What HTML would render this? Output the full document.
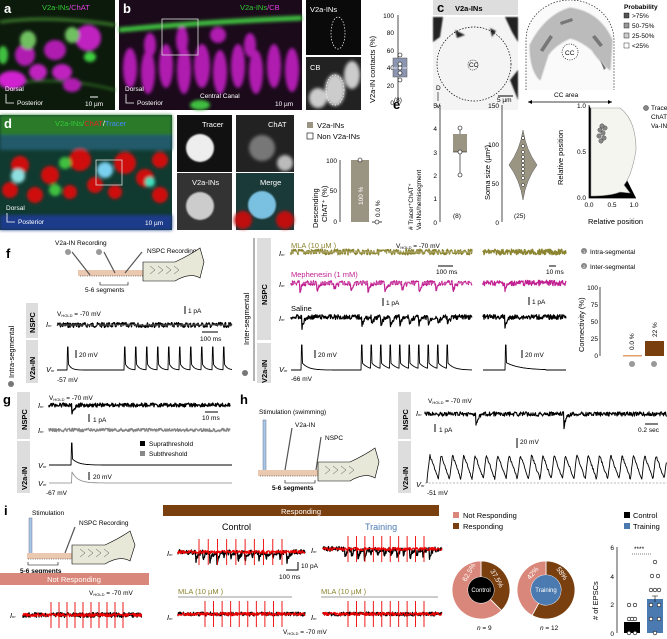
<!DOCTYPE html>
<html><head><meta charset="utf-8">
<style>
html,body{margin:0;padding:0;background:#fff;}
svg{display:block;font-family:"Liberation Sans",Arial,sans-serif;}
.l{font-weight:bold;font-size:13px;}
.t{font-size:7.5px;}
.s{font-size:6.5px;}
.it{font-style:italic;font-size:7.5px;}
</style></head><body>
<svg id="s" width="667" height="639" viewBox="0 0 667 639" xmlns="http://www.w3.org/2000/svg">
<defs>
<filter id="bl" x="-50%" y="-50%" width="200%" height="200%"><feGaussianBlur stdDeviation="1.6"/></filter>
<filter id="bl2" x="-50%" y="-50%" width="200%" height="200%"><feGaussianBlur stdDeviation="0.8"/></filter>
</defs>
<!-- panel a image -->
<rect x="0" y="0" width="115" height="110" fill="#0c1a0c"/>
<g filter="url(#bl)">
<path d="M0 22 Q50 15 115 25" stroke="#3a7a2a" stroke-width="3" fill="none"/>
<path d="M0 85 Q60 75 115 90" stroke="#2e6a22" stroke-width="2" fill="none"/>
<ellipse cx="88" cy="38" rx="13" ry="13" fill="#c020c0"/>
<ellipse cx="55" cy="50" rx="11" ry="10" fill="#b01cb0"/>
<ellipse cx="25" cy="55" rx="10" ry="11" fill="#b01cb0"/>
<ellipse cx="38" cy="72" rx="9" ry="8" fill="#c020c0"/>
<ellipse cx="12" cy="80" rx="14" ry="9" fill="#d024d0"/>
<ellipse cx="62" cy="72" rx="10" ry="8" fill="#c020c0"/>
<ellipse cx="72" cy="85" rx="9" ry="7" fill="#b01cb0"/>
<ellipse cx="28" cy="40" rx="8" ry="9" fill="#70c060"/>
<ellipse cx="72" cy="35" rx="7" ry="8" fill="#70c060"/>
<ellipse cx="90" cy="57" rx="6" ry="5" fill="#40d040"/>
<ellipse cx="3" cy="55" rx="5" ry="9" fill="#40c040"/>
</g>
<text x="4" y="13" class="l" fill="#fff">a</text>
<text x="42" y="10" class="t" fill="#3c3"><tspan>V2a-INs</tspan><tspan fill="#e040e0">/ChAT</tspan></text>
<text x="5" y="91" class="s" fill="#fff">Dorsal</text>
<path d="M6 94 V103 H14" stroke="#fff" stroke-width="0.8" fill="none"/>
<text x="17" y="105" class="s" fill="#fff">Posterior</text>
<text x="85" y="106" class="s" fill="#fff">10 µm</text>
<path d="M90 97 H98" stroke="#fff" stroke-width="1"/>
<!-- panel b -->
<rect x="119" y="0" width="183" height="110" fill="#1a0a1a"/>
<g filter="url(#bl)">
<path d="M119 30 Q200 22 302 18" stroke="#40c040" stroke-width="5" fill="none"/>
<g fill="#b01cb0">
<ellipse cx="130" cy="68" rx="7" ry="20"/><ellipse cx="148" cy="72" rx="7" ry="22"/><ellipse cx="166" cy="66" rx="7" ry="22"/>
<ellipse cx="184" cy="70" rx="7" ry="24"/><ellipse cx="202" cy="66" rx="8" ry="22"/><ellipse cx="220" cy="72" rx="7" ry="22"/>
<ellipse cx="238" cy="66" rx="7" ry="22"/><ellipse cx="256" cy="72" rx="7" ry="22"/><ellipse cx="274" cy="66" rx="7" ry="22"/>
<ellipse cx="292" cy="70" rx="7" ry="22"/><ellipse cx="182" cy="40" rx="6" ry="14"/><ellipse cx="218" cy="35" rx="8" ry="8"/>
<ellipse cx="150" cy="45" rx="6" ry="12"/><ellipse cx="250" cy="45" rx="6" ry="12"/>
</g>
<ellipse cx="200" cy="105" rx="10" ry="5" fill="#40c040"/>
</g>
<rect x="162" y="19" width="36" height="36" fill="none" stroke="#ddd" stroke-width="0.8"/>
<text x="123" y="13" class="l" fill="#fff">b</text>
<text x="240" y="10" class="t" fill="#3c3"><tspan>V2a-INs</tspan><tspan fill="#e040e0">/CB</tspan></text>
<text x="125" y="91" class="s" fill="#fff">Dorsal</text>
<path d="M126 94 V103 H134" stroke="#fff" stroke-width="0.8" fill="none"/>
<text x="137" y="105" class="s" fill="#fff">Posterior</text>
<text x="200" y="98" class="s" fill="#fff">Central Canal</text>
<text x="275" y="106" class="s" fill="#fff">10 µm</text>
<rect x="306" y="0" width="55" height="55" fill="#0a0a0a"/>
<ellipse cx="338" cy="33" rx="7" ry="16" fill="none" stroke="#fff" stroke-width="0.7" stroke-dasharray="1.5 1.5"/>
<text x="310" y="12" class="t" fill="#fff">V2a-INs</text>
<rect x="306" y="57" width="55" height="53" fill="#222"/>
<g filter="url(#bl)" fill="#ccc"><ellipse cx="335" cy="90" rx="10" ry="16"/><ellipse cx="352" cy="75" rx="8" ry="14"/><ellipse cx="318" cy="98" rx="9" ry="10"/></g>
<ellipse cx="335" cy="90" rx="9" ry="15" fill="none" stroke="#fff" stroke-width="0.7" stroke-dasharray="1.5 1.5"/>
<text x="310" y="70" class="t" fill="#fff">CB</text>
<!-- box plot b -->
<text transform="translate(375,103) rotate(-90)" class="t">V2a-IN contacts (%)</text>
<path d="M398 15 V103" stroke="#000" stroke-width="0.7"/>
<g class="s" text-anchor="end">
<text x="394" y="18">100</text><text x="394" y="35">80</text><text x="394" y="53">60</text><text x="394" y="70">40</text><text x="394" y="88">20</text><text x="394" y="105">0</text>
</g>
<rect x="393" y="58" width="14" height="19" fill="#8b95b0" stroke="#555" stroke-width="0.5"/>
<path d="M393 68 H407 M400 53 V58 M400 77 V81" stroke="#fff" stroke-width="0.7"/>
<g fill="#fff" stroke="#000" stroke-width="0.6"><circle cx="400" cy="55" r="2"/><circle cx="400" cy="64" r="2"/><circle cx="400" cy="68" r="2"/><circle cx="400" cy="73" r="2"/><circle cx="400" cy="80" r="2"/></g>
<text x="394" y="102" class="s">(8)</text>
<!-- panel c -->
<rect x="433" y="0" width="85" height="15" fill="#ddd"/>
<text x="437" y="12" class="l">c</text>
<text x="455" y="11" class="t" font-weight="bold">V2a-INs</text>
<rect x="433" y="17" width="85" height="93" fill="#f4f4f4"/>
<g filter="url(#bl2)" fill="#222"><path d="M433 17 h10 l-3 20 l-7 5z"/><path d="M505 17 h13 v25 l-6 -10z"/><path d="M510 80 l8 -10 v30z"/><path d="M455 30 l10 5 l-8 3z"/><path d="M490 28 l6 3 l-4 6z"/></g>
<circle cx="474" cy="64" r="37" fill="none" stroke="#000" stroke-width="0.7" stroke-dasharray="1.5 1.5"/>
<circle cx="473" cy="65" r="5" fill="none" stroke="#000" stroke-width="0.6" stroke-dasharray="1 1"/>
<text x="469" y="67" class="s" font-size="5">CC</text>
<text x="436" y="90" class="s">D</text><text x="436" y="108" class="s">V</text>
<path d="M438 92 V101" stroke="#000" stroke-width="0.6"/>
<text x="497" y="102" class="s">5 µm</text>
<path d="M498 96 H513" stroke="#000" stroke-width="1"/>
<path d="M526 90 V40 A44 40 0 0 1 614 40 V90" fill="#fafafa" stroke="#000" stroke-width="0.6" stroke-dasharray="1.5 1.5"/>
<g fill="#bbb" stroke="#777" stroke-width="0.4" filter="url(#bl2)">
<path d="M530 45 Q545 15 570 8 Q600 12 612 40 L610 70 Q598 60 592 50 Q580 40 570 38 Q555 45 548 55 L540 80 Q530 70 530 45z"/>
</g>
<g fill="#777"><path d="M540 50 l10 -15 l3 2 l-10 15z"/><path d="M595 35 l8 10 l-3 2 l-8 -10z"/><path d="M560 22 l12 -4 l1 3 l-12 4z"/><path d="M600 60 l6 8 l-2 2z"/></g>
<circle cx="570" cy="52" r="8" fill="#fff" stroke="#000" stroke-width="0.6" stroke-dasharray="1.2 1.2"/>
<text x="565" y="55" class="s">CC</text>
<path d="M528 102 H612" stroke="#000" stroke-width="0.7"/>
<path d="M528 102 l4 -2 v4z M612 102 l-4 -2 v4z"/>
<text x="554" y="97" class="s">CC area</text>
<text x="624" y="9" class="s" font-weight="bold">Probability</text>
<g class="s"><rect x="624" y="13" width="5" height="5" fill="#555" stroke="#000" stroke-width="0.4"/><text x="632" y="18">&gt;75%</text>
<rect x="624" y="23" width="5" height="5" fill="#999" stroke="#000" stroke-width="0.4"/><text x="632" y="28">50-75%</text>
<rect x="624" y="33" width="5" height="5" fill="#ccc" stroke="#000" stroke-width="0.4"/><text x="632" y="38">25-50%</text>
<rect x="624" y="43" width="5" height="5" fill="#fff" stroke="#000" stroke-width="0.4"/><text x="632" y="48">&lt;25%</text></g>
<!-- panel d -->
<rect x="0" y="115" width="172" height="115" fill="#103a30"/>
<g filter="url(#bl)">
<rect x="0" y="115" width="172" height="30" fill="#2a7a2a"/>
<rect x="0" y="135" width="172" height="15" fill="#205a6a"/>
<rect x="0" y="215" width="172" height="15" fill="#1a3a8a"/>
<g fill="#d01010"><circle cx="20" cy="165" r="9"/><circle cx="50" cy="175" r="9"/><circle cx="80" cy="160" r="11"/><circle cx="125" cy="163" r="11"/><circle cx="95" cy="185" r="8"/><circle cx="145" cy="178" r="9"/><circle cx="10" cy="190" r="8"/><circle cx="35" cy="195" r="8"/><circle cx="70" cy="192" r="7"/><circle cx="115" cy="192" r="7"/><circle cx="160" cy="195" r="8"/><circle cx="160" cy="160" r="8"/></g>
<circle cx="18" cy="176" r="7" fill="#8ee0e0"/><circle cx="105" cy="170" r="8" fill="#7ad0f0"/><circle cx="150" cy="182" r="5" fill="#40e0c0"/>
<circle cx="55" cy="190" r="6" fill="#40c040"/><circle cx="65" cy="163" r="6" fill="#40c040"/>
</g>
<rect x="96" y="160" width="26" height="25" fill="none" stroke="#ddd" stroke-width="0.8"/>
<text x="4" y="128" class="l" fill="#fff">d</text>
<text x="55" y="126" class="t"><tspan fill="#3c3">V2a-INs/</tspan><tspan fill="#e22">ChAT</tspan><tspan fill="#fff">/</tspan><tspan fill="#48f">Tracer</tspan></text>
<text x="6" y="210" class="s" fill="#fff">Dorsal</text>
<path d="M7 213 V222 H15" stroke="#fff" stroke-width="0.8" fill="none"/>
<text x="18" y="224" class="s" fill="#fff">Posterior</text>
<text x="145" y="225" class="s" fill="#fff">10 µm</text>
<rect x="177" y="115" width="55" height="57" fill="#111"/>
<circle cx="200" cy="148" r="14" fill="#eee" filter="url(#bl2)"/>
<text x="202" y="127" class="t" fill="#fff">Tracer</text>
<rect x="236" y="115" width="58" height="57" fill="#222"/>
<circle cx="262" cy="148" r="13" fill="#777" filter="url(#bl)"/><circle cx="285" cy="163" r="8" fill="#bbb" filter="url(#bl)"/>
<text x="268" y="127" class="t" fill="#fff">ChAT</text>
<rect x="177" y="173" width="55" height="57" fill="#333"/>
<circle cx="200" cy="206" r="14" fill="#ccc" filter="url(#bl2)"/>
<text x="192" y="185" class="t" fill="#fff">V2a-INs</text>
<rect x="236" y="173" width="58" height="57" fill="#1a3a3a"/>
<circle cx="262" cy="205" r="14" fill="#7ac0e0" filter="url(#bl2)"/><circle cx="243" cy="220" r="9" fill="#c01010" filter="url(#bl)"/><circle cx="285" cy="220" r="9" fill="#c01010" filter="url(#bl)"/>
<text x="260" y="185" class="t" fill="#fff">Merge</text>
<rect x="307" y="122" width="6" height="6" fill="#9a9482"/><text x="317" y="128" class="t">V2a-INs</text>
<rect x="307" y="133" width="6" height="6" fill="#fff" stroke="#000" stroke-width="0.6"/><text x="317" y="139" class="t">Non V2a-INs</text>
<text transform="translate(318,228) rotate(-90)" class="t">Descending</text>
<text transform="translate(327,222) rotate(-90)" class="t">ChAT⁺ (%)</text>
<path d="M340 160 V222" stroke="#000" stroke-width="0.7"/>
<g class="s" text-anchor="end"><text x="337" y="163">100</text><text x="337" y="193">50</text><text x="337" y="224">0</text></g>
<rect x="351" y="160" width="18" height="62" fill="#9a9482"/>
<circle cx="360" cy="160" r="2" fill="#fff" stroke="#000" stroke-width="0.6"/>
<text transform="translate(363,205) rotate(-90)" class="s" fill="#fff">100 %</text>
<text transform="translate(380,217) rotate(-90)" class="s">0.0 %</text>
<path d="M372 222 H382" stroke="#000" stroke-width="0.7"/><circle cx="377" cy="222" r="2" fill="#fff" stroke="#000" stroke-width="0.6"/>
<!-- panel e -->
<text x="393" y="109" class="l">e</text>
<text transform="translate(413,230) rotate(-90)" class="s"># Tracer⁺ChAT⁺</text>
<text transform="translate(421,230) rotate(-90)" class="s">Va-INs/hemisegment</text>
<path d="M440 105 V222" stroke="#000" stroke-width="0.7"/>
<g class="s" text-anchor="end"><text x="437" y="108">5</text><text x="437" y="131">4</text><text x="437" y="155">3</text><text x="437" y="178">2</text><text x="437" y="201">1</text><text x="437" y="225">0</text></g>
<rect x="453" y="134" width="14" height="18" fill="#9a9482"/>
<path d="M453 152 H467 M460 128 V134 M460 152 V175" stroke="#000" stroke-width="0.6"/>
<g fill="#fff" stroke="#000" stroke-width="0.6"><circle cx="460" cy="128" r="2"/><circle cx="460" cy="152" r="2"/><circle cx="460" cy="175" r="2"/></g>
<text x="453" y="218" class="s">(8)</text>
<text transform="translate(490,200) rotate(-90)" class="t">Soma size (µm²)</text>
<path d="M502 105 V222" stroke="#000" stroke-width="0.7"/>
<g class="s" text-anchor="end"><text x="499" y="108">150</text><text x="499" y="147">100</text><text x="499" y="186">50</text><text x="499" y="225">0</text></g>
<path d="M523 130 Q526 150 537 165 Q526 180 523 200 Q520 180 509 165 Q520 150 523 130z" fill="#9a9482" stroke="#555" stroke-width="0.5"/>
<g fill="#fff" stroke="#000" stroke-width="0.4"><circle cx="523" cy="138" r="1.5"/><circle cx="523" cy="146" r="1.5"/><circle cx="523" cy="152" r="1.5"/><circle cx="523" cy="157" r="1.5"/><circle cx="523" cy="161" r="1.5"/><circle cx="523" cy="165" r="1.5"/><circle cx="523" cy="169" r="1.5"/><circle cx="523" cy="173" r="1.5"/><circle cx="523" cy="178" r="1.5"/><circle cx="523" cy="185" r="1.5"/></g>
<text x="514" y="218" class="s">(25)</text>
<text transform="translate(563,185) rotate(-90)" class="t">Relative position</text>
<path d="M589 105 V198 H636" stroke="#000" stroke-width="0.7"/>
<g class="s" text-anchor="end"><text x="586" y="108">1.0</text><text x="586" y="154">0.5</text><text x="586" y="200">0.0</text></g>
<g class="s" text-anchor="middle"><text x="589" y="207">0.0</text><text x="612" y="207">0.5</text><text x="634" y="207">1.0</text></g>
<text x="588" y="224" class="t">Relative position</text>
<path d="M591 108 H620 Q636 120 636 150 Q632 175 624 185 L630 193 L620 192 Q610 196 591 196z" fill="#f5f5f0" stroke="#999" stroke-width="0.6"/>
<g fill="#888" stroke="#333" stroke-width="0.4"><circle cx="600" cy="130" r="2.2"/><circle cx="603" cy="133" r="2.2"/><circle cx="599" cy="136" r="2.2"/><circle cx="604" cy="138" r="2.2"/><circle cx="601" cy="141" r="2.2"/><circle cx="605" cy="128" r="2.2"/><circle cx="602" cy="126" r="2.2"/></g>
<circle cx="646" cy="108" r="2.5" fill="#888" stroke="#333" stroke-width="0.5"/>
<text x="651" y="110" class="s">Tracer⁺</text><text x="651" y="119" class="s">ChAT⁺</text><text x="651" y="128" class="s">Va-INs</text>
<!-- panel f -->
<text x="6" y="258" class="l">f</text>
<text x="55" y="245" class="s">V2a-IN Recording</text>
<text x="147" y="253" class="s">NSPC Recording</text>
<rect x="78" y="270" width="70" height="6" fill="#ebc8b0"/>
<path d="M80 276 H148" stroke="#000" stroke-width="0.6" stroke-dasharray="1 1.3"/>
<path d="M143 262 H175 Q190 255 200 248 L204 262 L200 278 Q190 272 175 281 H143z" fill="#e8e8d8" stroke="#000" stroke-width="0.6"/>
<path d="M150 266 l5 4 l-5 4 M158 266 l5 4 l-5 4 M166 266 l5 4 l-5 4 M174 266 l5 4 l-5 4" stroke="#555" stroke-width="0.5" fill="none"/>
<circle cx="68" cy="252" r="3" fill="#999"/><circle cx="99" cy="252" r="3" fill="#999"/>
<path d="M72 252 L90 275 M104 252 L115 273 M142 252 L125 273" stroke="#555" stroke-width="1.2"/>
<path d="M100 282 V285 H128 V282" stroke="#000" stroke-width="0.6" fill="none"/>
<text x="85" y="292" class="s">5-6 segments</text>
<rect x="26" y="303" width="12" height="35" fill="#ddd"/><rect x="26" y="340" width="12" height="43" fill="#ddd"/>
<text transform="translate(35,333) rotate(-90)" class="t" font-weight="bold">NSPC</text>
<text transform="translate(35,380) rotate(-90)" class="t" font-weight="bold">V2a-IN</text>
<text transform="translate(14,378) rotate(-90)" class="t">Intra-segmental</text>
<circle cx="11" cy="384" r="3" fill="#777"/>
<text x="57" y="316" class="s">V<tspan font-size="4" dy="1">HOLD</tspan><tspan dy="-1"> = -70 mV</tspan></text>
<text x="46" y="327" class="it">I<tspan font-size="4">m</tspan></text>
<path d="M185 306 V314" stroke="#000"/><text x="188" y="313" class="s">1 pA</text>
<path d="M202 332 H218" stroke="#000"/><text x="200" y="341" class="s">100 ms</text>
<path d="M76 350 V358" stroke="#000"/><text x="79" y="357" class="s">20 mV</text>
<text x="46" y="372" class="it">V<tspan font-size="4">m</tspan></text>
<text x="57" y="382" class="s">-57 mV</text>
<path d="M254 238 V381" stroke="#000" stroke-width="0.6"/>
<rect x="257" y="238" width="14" height="102" fill="#ddd"/><rect x="257" y="343" width="14" height="40" fill="#ddd"/>
<text transform="translate(267,305) rotate(-90)" class="t" font-weight="bold">NSPC</text>
<text transform="translate(267,383) rotate(-90)" class="t" font-weight="bold">V2a-IN</text>
<text transform="translate(249,345) rotate(-90)" class="t">Inter-segmental</text>
<circle cx="245" cy="373" r="3" fill="#777"/>
<text x="291" y="248" class="t" fill="#8b8430">MLA (10 µM )</text>
<text x="396" y="248" class="s">V<tspan font-size="4" dy="1">HOLD</tspan><tspan dy="-1"> = -70 mV</tspan></text>
<text x="279" y="256" class="it">I<tspan font-size="4">m</tspan></text>
<path d="M438 266 H453" stroke="#000"/><text x="436" y="274" class="s">100 ms</text>
<path d="M549 266 H556" stroke="#000"/><text x="546" y="274" class="s">10 ms</text>
<text x="291" y="277" class="t" fill="#c02090">Mephenesin (1 mM)</text>
<text x="279" y="287" class="it">I<tspan font-size="4">m</tspan></text>
<path d="M383 298 V306" stroke="#000"/><text x="386" y="305" class="s">1 pA</text>
<path d="M529 297 V305" stroke="#000"/><text x="532" y="304" class="s">1 pA</text>
<text x="291" y="311" class="t">Saline</text>
<text x="279" y="321" class="it">I<tspan font-size="4">m</tspan></text>
<path d="M315 350 V358" stroke="#000"/><text x="318" y="357" class="s">20 mV</text>
<path d="M522 350 V358" stroke="#000"/><text x="525" y="357" class="s">20 mV</text>
<text x="279" y="372" class="it">V<tspan font-size="4">m</tspan></text>
<text x="291" y="381" class="s">-66 mV</text>
<circle cx="584" cy="251" r="3" fill="#888"/><text x="583" y="253" font-size="4" fill="#fff">1</text><text x="590" y="254" class="s">Intra-segmental</text>
<circle cx="584" cy="266" r="3" fill="#888"/><text x="583" y="268" font-size="4" fill="#fff">2</text><text x="590" y="269" class="s">Inter-segmental</text>
<text transform="translate(584,352) rotate(-90)" class="t">Connectivity (%)</text>
<path d="M600 287 V356" stroke="#000" stroke-width="0.7"/>
<g class="s" text-anchor="end" font-size="5.5"><text x="598" y="290">100</text><text x="598" y="307">75</text><text x="598" y="324">50</text><text x="598" y="341">25</text><text x="598" y="358">0</text></g>
<rect x="623" y="355" width="19" height="1.5" fill="#e0a070"/>
<rect x="645" y="341" width="19" height="15" fill="#7a3f0f"/>
<text transform="translate(634,350) rotate(-90)" class="s">0.0 %</text>
<text transform="translate(657,337) rotate(-90)" class="s">22 %</text>
<circle cx="632" cy="364" r="3" fill="#999"/><circle cx="654" cy="364" r="3" fill="#999"/>
<!-- panel g -->
<text x="3" y="404" class="l">g</text>
<rect x="17" y="392" width="13" height="47" fill="#ddd"/><rect x="17" y="441" width="13" height="52" fill="#ddd"/>
<text transform="translate(27,430) rotate(-90)" class="t" font-weight="bold">NSPC</text>
<text transform="translate(27,490) rotate(-90)" class="t" font-weight="bold">V2a-IN</text>
<text x="49" y="400" class="s">V<tspan font-size="4" dy="1">HOLD</tspan><tspan dy="-1"> = -70 mV</tspan></text>
<text x="38" y="408" class="it">I<tspan font-size="4">m</tspan></text>
<text x="38" y="433" class="it">I<tspan font-size="4">m</tspan></text>
<path d="M89 414 V422" stroke="#000"/><text x="93" y="422" class="s">1 pA</text>
<path d="M205 412 H218" stroke="#000"/><text x="202" y="420" class="s">10 ms</text>
<rect x="140" y="441" width="5" height="5"/><text x="149" y="446" class="s">Suprathreshold</text>
<rect x="140" y="451" width="5" height="5" fill="#888"/><text x="149" y="456" class="s">Subthreshold</text>
<text x="38" y="468" class="it">V<tspan font-size="4">m</tspan></text>
<text x="38" y="486" class="it">V<tspan font-size="4">m</tspan></text>
<path d="M89 472 V480" stroke="#000"/><text x="93" y="479" class="s">20 mV</text>
<text x="46" y="495" class="s">-67 mV</text>
<!-- panel h -->
<text x="240" y="404" class="l">h</text>
<text x="259" y="414" class="s">Stimulation (swimming)</text>
<text x="295" y="427" class="s">V2a-IN</text>
<text x="325" y="440" class="s">NSPC</text>
<rect x="263" y="420" width="3" height="55" fill="#a8c8e8" stroke="#557" stroke-width="0.4"/>
<path d="M292 428 L285 470 M321 437 L316 470" stroke="#555" stroke-width="1.2"/>
<rect x="258" y="470" width="65" height="6" fill="#ebc8b0"/>
<path d="M260 476 H323" stroke="#000" stroke-width="0.6" stroke-dasharray="1 1.3"/>
<path d="M318 462 H350 Q365 455 375 448 L379 462 L375 478 Q365 472 350 481 H318z" fill="#e8e8d8" stroke="#000" stroke-width="0.6"/>
<path d="M325 466 l5 4 l-5 4 M333 466 l5 4 l-5 4 M341 466 l5 4 l-5 4 M349 466 l5 4 l-5 4" stroke="#555" stroke-width="0.5" fill="none"/>
<path d="M285 480 V483 H315 V480" stroke="#000" stroke-width="0.6" fill="none"/>
<text x="272" y="490" class="s" font-weight="bold">5-6 segments</text>
<rect x="398" y="392" width="13" height="47" fill="#ddd"/><rect x="398" y="441" width="13" height="52" fill="#ddd"/>
<text transform="translate(408,430) rotate(-90)" class="t" font-weight="bold">NSPC</text>
<text transform="translate(408,490) rotate(-90)" class="t" font-weight="bold">V2a-IN</text>
<text x="428" y="403" class="s">V<tspan font-size="4" dy="1">HOLD</tspan><tspan dy="-1"> = -70 mV</tspan></text>
<text x="416" y="416" class="it">I<tspan font-size="4">m</tspan></text>
<path d="M435 424 V432" stroke="#000"/><text x="439" y="432" class="s">1 pA</text>
<path d="M645 424 H658" stroke="#000"/><text x="638" y="432" class="s">0.2 sec</text>
<path d="M517 438 V448" stroke="#000"/><text x="520" y="444" class="s">20 mV</text>
<text x="416" y="487" class="it">V<tspan font-size="4">m</tspan></text>
<path d="M425 483 H667" stroke="#777" stroke-width="0.6" stroke-dasharray="2 1.5"/>
<text x="427" y="495" class="s">-51 mV</text>
<!-- panel i -->
<text x="4" y="515" class="l">i</text>
<text x="32" y="515" class="s">Stimulation</text>
<text x="79" y="525" class="s">NSPC Recording</text>
<rect x="29" y="518" width="3" height="40" fill="#a8c8e8" stroke="#557" stroke-width="0.4"/>
<path d="M75 527 L65 553" stroke="#555" stroke-width="1.2"/>
<rect x="27" y="553" width="50" height="6" fill="#ebc8b0"/>
<path d="M28 559 H77" stroke="#000" stroke-width="0.6" stroke-dasharray="1 1.3"/>
<path d="M72 545 H105 Q120 538 130 531 L135 545 L130 561 Q120 555 105 564 H72z" fill="#e8e8d8" stroke="#000" stroke-width="0.6"/>
<path d="M80 549 l5 4 l-5 4 M88 549 l5 4 l-5 4 M96 549 l5 4 l-5 4 M104 549 l5 4 l-5 4" stroke="#555" stroke-width="0.5" fill="none"/>
<path d="M28 562 V565 H58 V562" stroke="#000" stroke-width="0.6" fill="none"/>
<text x="20" y="573" class="s" font-weight="bold">5-6 segments</text>
<rect x="0" y="573" width="149" height="12" fill="#d9877a"/>
<text x="74" y="582" class="t" fill="#fff" text-anchor="middle">Not Responding</text>
<text x="89" y="595" class="s">V<tspan font-size="4" dy="1">HOLD</tspan><tspan dy="-1"> = -70 mV</tspan></text>
<text x="10" y="618" class="it">I<tspan font-size="4">m</tspan></text>
<rect x="163" y="505" width="276" height="11" fill="#7a3f0f"/>
<text x="301" y="514" class="t" fill="#fff" text-anchor="middle">Responding</text>
<text x="222" y="530" font-size="9">Control</text>
<text x="365" y="530" font-size="9" fill="#4a7ab0">Training</text>
<text x="167" y="556" class="it">I<tspan font-size="4">m</tspan></text>
<text x="311" y="553" class="it">I<tspan font-size="4">m</tspan></text>
<path d="M286 570 H298 V562" stroke="#000" fill="none"/><text x="301" y="568" class="s">10 pA</text>
<text x="279" y="579" class="s">100 ms</text>
<text x="178" y="594" class="t" fill="#8b8430">MLA (10 µM )</text>
<text x="321" y="594" class="t" fill="#8b8430">MLA (10 µM )</text>
<path d="M178 597 H292 M321 597 H438" stroke="#777" stroke-width="0.8"/>
<text x="167" y="620" class="it">I<tspan font-size="4">m</tspan></text>
<text x="311" y="620" class="it">I<tspan font-size="4">m</tspan></text>
<text x="283" y="634" class="s">V<tspan font-size="4" dy="1">HOLD</tspan><tspan dy="-1"> = -70 mV</tspan></text>
<rect x="453" y="512" width="6" height="6" fill="#d9877a"/><text x="463" y="518" class="t">Not Responding</text>
<rect x="453" y="523" width="6" height="6" fill="#7a3f0f"/><text x="463" y="529" class="t">Responding</text>
<g id="pies"></g>
<text x="477" y="630" class="s"><tspan font-style="italic">n</tspan> = 9</text>
<text x="540" y="630" class="s"><tspan font-style="italic">n</tspan> = 12</text>
<rect x="624" y="512" width="6" height="6" fill="#000"/><text x="633" y="518" class="t">Control</text>
<rect x="624" y="523" width="6" height="6" fill="#4a7ab0"/><text x="633" y="529" class="t">Training</text>
<text transform="translate(598,620) rotate(-90)" class="t"># of EPSCs</text>
<path d="M617 547 V633" stroke="#000" stroke-width="0.7"/>
<g class="s" text-anchor="end"><text x="614" y="550">6</text><text x="614" y="579">4</text><text x="614" y="607">2</text><text x="614" y="636">0</text></g>
<text x="634" y="551" class="s">****</text>
<path d="M632 554 H652" stroke="#000" stroke-width="0.6" stroke-dasharray="1 1"/>
<rect x="624" y="622" width="16" height="11" fill="#000"/>
<rect x="647" y="599" width="16" height="34" fill="#4a7ab0"/>
<path d="M655 596 V602 M652 596 H658" stroke="#000" stroke-width="0.6"/>
<g fill="#fff" stroke="#000" stroke-width="0.6">
<circle cx="629" cy="605" r="1.8"/><circle cx="635" cy="605" r="1.8"/><circle cx="629" cy="619" r="1.8"/><circle cx="635" cy="619" r="1.8"/><circle cx="632" cy="619" r="1.8"/><circle cx="629" cy="633" r="1.8"/><circle cx="635" cy="633" r="1.8"/>
<circle cx="655" cy="562" r="1.8"/><circle cx="652" cy="576" r="1.8"/><circle cx="658" cy="576" r="1.8"/><circle cx="651" cy="590" r="1.8"/><circle cx="655" cy="590" r="1.8"/><circle cx="659" cy="590" r="1.8"/><circle cx="651" cy="605" r="1.8"/><circle cx="659" cy="605" r="1.8"/><circle cx="651" cy="619" r="1.8"/><circle cx="659" cy="619" r="1.8"/><circle cx="655" cy="633" r="1.8"/>
</g>
<g id="tr"></g>
</svg>
<script>
(function(){
var seed=7;function r(){seed=(seed*9301+49297)%233280;return seed/233280;}
var g=document.getElementById('tr');var out='';
function P(d,c,w){out+='<path d="'+d+'" stroke="'+c+'" stroke-width="'+(w||0.6)+'" fill="none" stroke-linejoin="round"/>';}
function noise(x0,x1,y,a,c,w,dips){var d='M'+x0+' '+y;for(var x=x0;x<=x1;x+=0.5){var v=y+(r()-0.5)*2*a;if(dips){for(var i=0;i<dips.length;i++){var dx=x-dips[i][0];if(dx>=0&&dx<8)v+=dips[i][1]*Math.exp(-dx/2.2);}}d+=' L'+x.toFixed(1)+' '+v.toFixed(1);}P(d,c,w);}
function spikes(x0,x1,y,xs,h,c,tau,w){var d='M'+x0+' '+y;for(var x=x0;x<=x1;x+=0.5){var v=y;for(var i=0;i<xs.length;i++){var dx=x-xs[i];if(dx>=-0.5&&dx<0.5)v=y-h;else if(dx>=0.5&&dx<40)v=Math.min(v,y-h*0.3*Math.exp(-dx/tau));}d+=' L'+x.toFixed(1)+' '+v.toFixed(1);}P(d,c,w||0.9);}
// f intra
noise(57,232,325,2.4,'#000',1.4);P('M57 325 H232','#fff',0.4);
var tr=[];for(var i=0;i<10;i++)tr.push(125+i*11);
spikes(57,232,370,[68].concat(tr),23,'#000',3);
// f inter
noise(291,472,252,2.8,'#8b8430',1.4);noise(483,566,252,2.8,'#8b8430',1.4);
P('M291 252 H472','#fff',0.4);
var dm=[];for(var i=0;i<10;i++)dm.push([300+i*17,8]);
noise(291,472,283,2.4,'#c02090',1.2,dm);noise(483,566,283,2.8,'#c02090',1.2,[[505,7]]);
P('M291 283 H472','#fff',0.4);
var ds=[[302,11]];for(var i=0;i<10;i++)ds.push([362+i*9.5,8]);
noise(291,472,317,2.4,'#000',1.2,ds);noise(483,566,317,2.4,'#000',1.2,[[505,10]]);
var t2=[];for(var i=0;i<10;i++)t2.push(362+i*9.5);
spikes(291,472,370,[302].concat(t2),25,'#000',6);
spikes(483,566,370,[506],25,'#000',14);
// g
noise(49,230,405,2,'#000',1.3,[[72,9]]);noise(49,230,430,1.7,'#888',1.3);
spikes(49,232,465,[72],22,'#000',6);
var d='M49 483';for(var x=49;x<=232;x+=0.5){var dx=x-72;var v=483;if(dx>=0)v=483-11*Math.exp(-dx/6);d+=' L'+x+' '+v.toFixed(1);}P(d,'#888',0.8);
// h
noise(425,667,414,2.2,'#000',1.1,[[476,13],[564,13]]);
d='M427 483';for(var x=427;x<=667;x+=0.6){var ph=(x-427)/11.3;var f=ph-Math.floor(ph);var v=483-4-(f<0.25?f*4*24:24*(1-(f-0.25)/0.75))+(r()-0.5)*2.5;d+=' L'+x.toFixed(1)+' '+v.toFixed(1);}P(d,'#000',0.9);
// i traces
function stimT(x0,x1,y,a,dip,red){noise(x0,x1,y,a,'#000',1.3,dip);noise(x0,x1,y,1.6,'#e00',1.2);for(var i=0;i<red.length;i++)P('M'+red[i]+' '+(y-13)+' V'+(y+13),'#e00',0.9);}
function reds(a,b){var o=[];for(var i=0;i<10;i++)o.push(a+i*(b-a)/9);return o;}
var dd=[];for(var i=0;i<14;i++)dd.push([196+i*7,5+r()*6]);
stimT(178,305,552,2.4,dd,reds(199,282));
var dd2=[];for(var i=0;i<14;i++)dd2.push([345+i*6.5,4+r()*6]);
stimT(323,442,549,2.6,dd2,reds(348,424));
stimT(23,142,615,2.4,null,reds(51,123));
stimT(178,305,614,2,null,reds(205,282));
stimT(323,442,614,2,null,reds(348,424));
g.innerHTML=out;
// pies
function arc(cx,cy,R,ri,a0,a1,c){var p=function(rr,a){return [(cx+rr*Math.sin(a)).toFixed(2),(cy-rr*Math.cos(a)).toFixed(2)];};var L=(a1-a0)>Math.PI?1:0;var A=p(R,a0),B=p(R,a1),C=p(ri,a1),D=p(ri,a0);return '<path d="M'+A+' A'+R+' '+R+' 0 '+L+' 1 '+B+' L'+C+' A'+ri+' '+ri+' 0 '+L+' 0 '+D+'Z" fill="'+c+'" stroke="#fff" stroke-width="0.8"/>';}
var T=2*Math.PI,pi='';
pi+=arc(481,590,29,13,0,0.375*T,'#7a3f0f')+arc(481,590,29,13,0.375*T,T,'#d9877a');
pi+='<circle cx="481" cy="590" r="13" fill="#000"/><text x="481" y="592" font-size="6" fill="#fff" text-anchor="middle">Control</text>';
pi+='<text x="466" y="582" font-size="7" fill="#fff" transform="rotate(-60 466 582)">62.5%</text><text x="490" y="571" font-size="7" fill="#fff" transform="rotate(60 490 571)">37.5%</text>';
pi+=arc(546,590,29,15,0,0.58*T,'#7a3f0f')+arc(546,590,29,15,0.58*T,T,'#d9877a');
pi+='<circle cx="546" cy="590" r="15" fill="#4a7ab0"/><text x="546" y="592" font-size="6" fill="#fff" text-anchor="middle">Training</text>';
pi+='<text x="530" y="580" font-size="7" fill="#fff" transform="rotate(-50 530 580)">42%</text><text x="556" y="569" font-size="7" fill="#fff" transform="rotate(55 556 569)">58%</text>';
document.getElementById('pies').innerHTML=pi;
})();
</script>
</body></html>
